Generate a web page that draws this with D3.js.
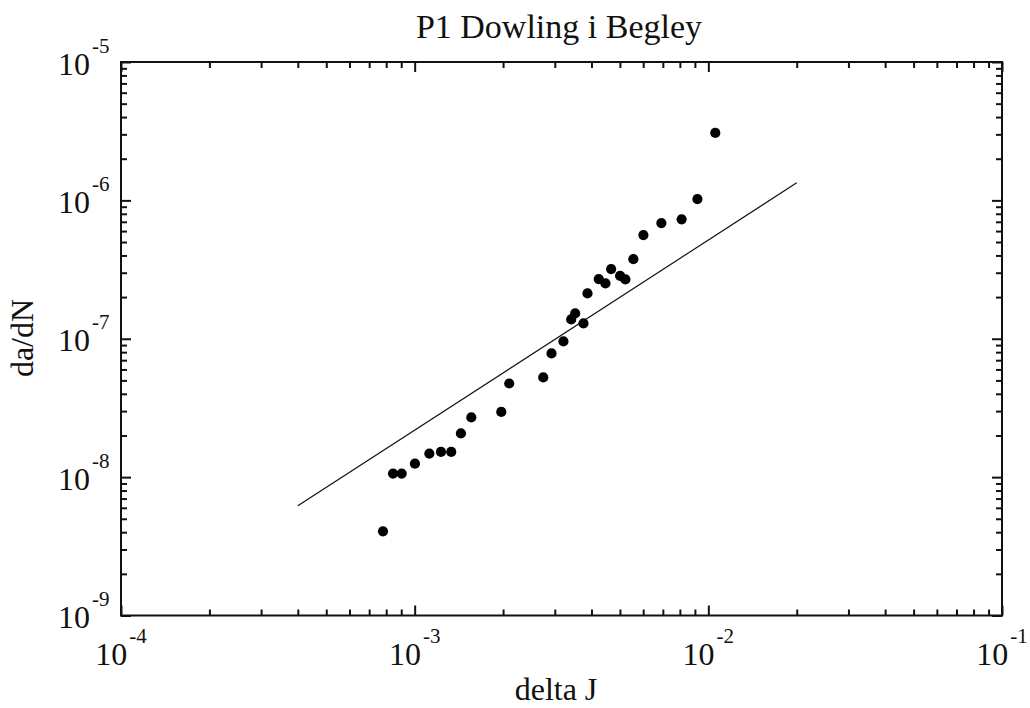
<!DOCTYPE html>
<html>
<head>
<meta charset="utf-8">
<script src="https://cdn.jsdelivr.net/npm/d3@7"></script>
<style>
  html, body { margin: 0; padding: 0; background: #fff; }
  svg { display: block; }
  text { font-family: "Liberation Serif", "Times New Roman", serif; fill: #111; }
</style>
</head>
<body>
<svg id="chart" width="1030" height="708"></svg>
<script>
// ---- data ----
const title = "P1 Dowling i Begley";
const xLabel = "delta J";
const yLabel = "da/dN";
const xDomain = [1e-4, 1e-1];
const yDomain = [1e-9, 1e-5];
const xMajorExp = [-4, -3, -2, -1];
const yMajorExp = [-9, -8, -7, -6, -5];

const deltaJ = [7.80e-4, 8.44e-4, 9.03e-4, 1.002e-3, 1.122e-3, 1.229e-3, 1.332e-3, 1.437e-3,
  1.559e-3, 1.972e-3, 2.099e-3, 2.741e-3, 2.924e-3, 3.211e-3, 3.412e-3, 3.520e-3, 3.757e-3,
  3.877e-3, 4.235e-3, 4.463e-3, 4.667e-3, 5.006e-3, 5.218e-3, 5.556e-3, 6.010e-3, 6.92e-3,
  8.11e-3, 9.18e-3, 1.056e-2];
const daDN = [4.06e-9, 1.06e-8, 1.06e-8, 1.25e-8, 1.48e-8, 1.52e-8, 1.52e-8, 2.07e-8,
  2.70e-8, 2.96e-8, 4.75e-8, 5.25e-8, 7.83e-8, 9.56e-8, 1.379e-7, 1.524e-7, 1.29e-7,
  2.126e-7, 2.70e-7, 2.51e-7, 3.19e-7, 2.85e-7, 2.685e-7, 3.76e-7, 5.61e-7, 6.85e-7,
  7.29e-7, 1.022e-6, 3.07e-6];

const fitX = [4.0e-4, 2.0e-2];
const fitY = [6.2e-9, 1.34e-6];

// ---- layout ----
const L = 121, R = 1002, T = 62, B = 615.5;
const svg = d3.select("#chart");
const x = d3.scaleLog().domain(xDomain).range([L, R]);
const y = d3.scaleLog().domain(yDomain).range([B, T]);

function minorTicks(domain) {
  const out = [];
  const e0 = Math.round(Math.log10(domain[0])), e1 = Math.round(Math.log10(domain[1]));
  for (let e = e0; e < e1; e++) for (let k = 2; k <= 9; k++) out.push(k * Math.pow(10, e));
  return out;
}
const xMajor = xMajorExp.map(e => Math.pow(10, e));
const yMajor = yMajorExp.map(e => Math.pow(10, e));
const xMinor = minorTicks(xDomain);
const yMinor = minorTicks(yDomain);

function styleAxis(g) {
  g.select(".domain").remove();
  g.selectAll(".tick text").remove();
  g.selectAll(".tick line").attr("stroke", "#111").attr("stroke-width", 2);
}

// bottom
svg.append("g").attr("transform", `translate(0,${B})`)
  .call(d3.axisBottom(x).tickValues(xMajor).tickSize(-10)).call(styleAxis);
svg.append("g").attr("transform", `translate(0,${B})`)
  .call(d3.axisBottom(x).tickValues(xMinor).tickSize(-6)).call(styleAxis);
// top
svg.append("g").attr("transform", `translate(0,${T})`)
  .call(d3.axisTop(x).tickValues(xMajor).tickSize(-10)).call(styleAxis);
svg.append("g").attr("transform", `translate(0,${T})`)
  .call(d3.axisTop(x).tickValues(xMinor).tickSize(-6)).call(styleAxis);
// left
svg.append("g").attr("transform", `translate(${L},0)`)
  .call(d3.axisLeft(y).tickValues(yMajor).tickSize(-10)).call(styleAxis);
svg.append("g").attr("transform", `translate(${L},0)`)
  .call(d3.axisLeft(y).tickValues(yMinor).tickSize(-6)).call(styleAxis);
// right
svg.append("g").attr("transform", `translate(${R},0)`)
  .call(d3.axisRight(y).tickValues(yMajor).tickSize(-10)).call(styleAxis);
svg.append("g").attr("transform", `translate(${R},0)`)
  .call(d3.axisRight(y).tickValues(yMinor).tickSize(-6)).call(styleAxis);

// frame
svg.append("rect").attr("x", L).attr("y", T).attr("width", R - L).attr("height", B - T)
  .attr("fill", "none").attr("stroke", "#111").attr("stroke-width", 2);

// tick labels x
xMajorExp.forEach(e => {
  const t = svg.append("text").attr("x", x(Math.pow(10, e))).attr("y", 665)
    .attr("text-anchor", "middle").style("font-size", "32px");
  t.append("tspan").text("10");
  t.append("tspan").attr("dx", 2).attr("dy", -22).style("font-size", "21px").text(String(e));
});
// tick labels y
yMajorExp.forEach(e => {
  const t = svg.append("text").attr("x", 58).attr("y", y(Math.pow(10, e)) + 12.5)
    .attr("text-anchor", "start").style("font-size", "32px");
  t.append("tspan").text("10");
  t.append("tspan").attr("dx", 2).attr("dy", -22).style("font-size", "21px").text(String(e));
});

// fit line
const line = d3.line().x(d => x(d[0])).y(d => y(d[1]));
svg.append("path").datum(d3.zip(fitX, fitY)).attr("d", line)
  .attr("fill", "none").attr("stroke", "#111").attr("stroke-width", 1.2);

// points
svg.append("g").selectAll("circle").data(d3.zip(deltaJ, daDN)).join("circle")
  .attr("cx", d => x(d[0])).attr("cy", d => y(d[1])).attr("r", 5.1).attr("fill", "#000");

// titles
svg.append("text").attr("x", 559).attr("y", 38).attr("text-anchor", "middle")
  .style("font-size", "34px").text(title);
svg.append("text").attr("x", 556).attr("y", 700).attr("text-anchor", "middle")
  .style("font-size", "32px").text(xLabel);
svg.append("text").attr("transform", "translate(33,338) rotate(-90)").attr("text-anchor", "middle")
  .style("font-size", "32px").text(yLabel);
</script>
</body>
</html>
